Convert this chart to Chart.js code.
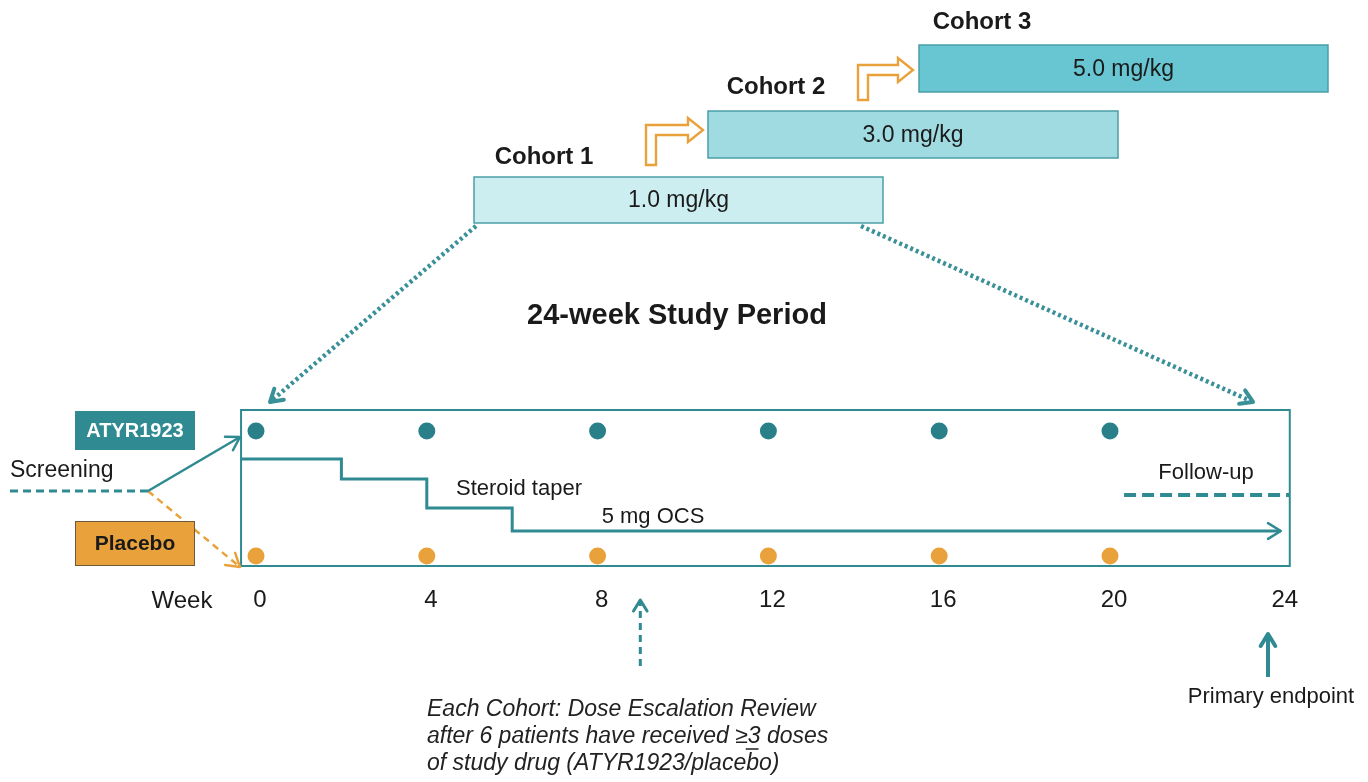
<!DOCTYPE html>
<html>
<head>
<meta charset="utf-8">
<script src="https://cdn.jsdelivr.net/npm/chart.js@4.4.1/dist/chart.umd.min.js"></script>
<style>
  html, body { margin: 0; padding: 0; background: #fff; overflow: hidden; }
  #wrap { width: 1368px; height: 782px; position: relative; }
  canvas { display: block; }
</style>
</head>
<body>
<div id="wrap"><canvas id="chart"></canvas></div>
<script>
// ---- data ----
const weekTicks = [0, 4, 8, 12, 16, 20, 24];
const doseWeeks = [0, 4, 8, 12, 16, 20];
const taperWeeks = [-0.35, 2, 4, 6, 24];
const followUpWeeks = [20.33, 24.21];
const reviewWeek = 9;
const cohortNames = ['Cohort 1', 'Cohort 2', 'Cohort 3'];
const cohortDoses = ['1.0 mg/kg', '3.0 mg/kg', '5.0 mg/kg'];

// ---- layout (pixel rows / columns of the diagram) ----
const W = 1368, H = 782;
const weekPx0 = 256, pxPerWeek = 42.7;           // week 0 position and spacing
const taperRows = [459, 479, 508, 531, 531];
const rows = { atyr: 431, placebo: 556, follow: 495, ticks: 601, boxTop: 410, boxBottom: 566 };
const boxWeeks = [-0.35, 24.21];
const cohortBoxes = [
  { x0: 474, x1: 883, y0: 177, y1: 223, fill: '#cdeef1', lx: 544, ly: 157 },
  { x0: 708, x1: 1118, y0: 111, y1: 158, fill: '#a0dbe1', lx: 776, ly: 87 },
  { x0: 919, x1: 1328, y0: 45, y1: 92, fill: '#67c6d2', lx: 982, ly: 22 }
];
const bentArrows = [
  { l: 646, r: 703, t: 118, b: 165 },
  { l: 858, r: 913, t: 58, b: 100 }
];
const screenLine = { x: [10, 148], y: [491, 491] };
const toAtyr = { x: [148, 240], y: [491, 437] };
const toPlacebo = { x: [148, 240], y: [491, 567] };

const teal = '#2f8a92';
const tealDot = '#2a8089';
const orange = '#e9a23b';
const ink = '#1a1a1a';
const sans = '"Liberation Sans", Arial, sans-serif';

function arrowHead(ctx, x, y, ang, size, width, color) {
  ctx.save();
  ctx.strokeStyle = color;
  ctx.lineWidth = width;
  ctx.setLineDash([]);
  ctx.lineCap = 'round';
  ctx.lineJoin = 'round';
  ctx.beginPath();
  ctx.moveTo(x - size * Math.cos(ang - 0.55), y - size * Math.sin(ang - 0.55));
  ctx.lineTo(x, y);
  ctx.lineTo(x - size * Math.cos(ang + 0.55), y - size * Math.sin(ang + 0.55));
  ctx.stroke();
  ctx.restore();
}

function line(ctx, x0, y0, x1, y1, color, width, dash) {
  ctx.save();
  ctx.strokeStyle = color;
  ctx.lineWidth = width;
  ctx.setLineDash(dash || []);
  ctx.beginPath();
  ctx.moveTo(x0, y0);
  ctx.lineTo(x1, y1);
  ctx.stroke();
  ctx.restore();
}

function text(ctx, str, x, y, font, color, align) {
  ctx.font = font;
  ctx.fillStyle = color || ink;
  ctx.textAlign = align || 'center';
  ctx.textBaseline = 'middle';
  ctx.fillText(str, x, y);
}

const diagram = {
  id: 'diagram',
  beforeDatasetsDraw(chart) {
    const { ctx, scales } = chart;
    const xw = scales.x, xl = scales.xl, y = scales.y;
    ctx.save();
    // timeline frame
    const bx0 = xw.getPixelForValue(boxWeeks[0]), bx1 = xw.getPixelForValue(boxWeeks[1]);
    ctx.strokeStyle = teal;
    ctx.lineWidth = 2;
    ctx.strokeRect(bx0, y.getPixelForValue(rows.boxTop), bx1 - bx0, y.getPixelForValue(rows.boxBottom) - y.getPixelForValue(rows.boxTop));

    // cohort boxes
    cohortBoxes.forEach((b, i) => {
      const x0 = xl.getPixelForValue(b.x0), x1 = xl.getPixelForValue(b.x1);
      const y0 = y.getPixelForValue(b.y0), y1 = y.getPixelForValue(b.y1);
      ctx.fillStyle = b.fill;
      ctx.fillRect(x0, y0, x1 - x0, y1 - y0);
      ctx.strokeStyle = '#4a9ea6';
      ctx.lineWidth = 1.5;
      ctx.strokeRect(x0, y0, x1 - x0, y1 - y0);
      text(ctx, cohortDoses[i], (x0 + x1) / 2, (y0 + y1) / 2 + 1, '23px ' + sans, ink);
      text(ctx, cohortNames[i], xl.getPixelForValue(b.lx), y.getPixelForValue(b.ly), 'bold 24px ' + sans, ink);
    });

    // hollow bent arrows between cohorts
    bentArrows.forEach(a => {
      const L = xl.getPixelForValue(a.l), R = xl.getPixelForValue(a.r);
      const T = y.getPixelForValue(a.t), B = y.getPixelForValue(a.b);
      const hh = 12, sh = 5, hl = 15, sw = 10;
      const yc = T + hh;
      ctx.beginPath();
      ctx.moveTo(L, B);
      ctx.lineTo(L, yc - sh);
      ctx.lineTo(R - hl, yc - sh);
      ctx.lineTo(R - hl, T);
      ctx.lineTo(R, yc);
      ctx.lineTo(R - hl, T + 2 * hh);
      ctx.lineTo(R - hl, yc + sh);
      ctx.lineTo(L + sw, yc + sh);
      ctx.lineTo(L + sw, B);
      ctx.closePath();
      ctx.fillStyle = '#fff';
      ctx.fill();
      ctx.strokeStyle = orange;
      ctx.lineWidth = 2.4;
      ctx.lineJoin = 'miter';
      ctx.stroke();
    });

    // dotted zoom arrows from cohort 1 to the timeline
    const c1 = cohortBoxes[0];
    const dots = [[c1.x0 + 2, 226, 270, 402], [c1.x1 - 22, 226, 1253, 402]];
    dots.forEach(d => {
      const x0 = xl.getPixelForValue(d[0]), y0 = y.getPixelForValue(d[1]);
      const x1 = xl.getPixelForValue(d[2]), y1 = y.getPixelForValue(d[3]);
      line(ctx, x0, y0, x1, y1, '#3a9098', 4.5, [3, 3]);
      arrowHead(ctx, x1, y1, Math.atan2(y1 - y0, x1 - x0), 14, 4, '#3a9098');
    });

    text(ctx, '24-week Study Period', 677, 316, 'bold 29px ' + sans, ink);
    ctx.restore();
  },
  afterDatasetsDraw(chart) {
    const { ctx, scales } = chart;
    const xw = scales.x, y = scales.y;
    ctx.save();

    // arrowheads on line datasets
    chart.data.datasets.forEach((ds, i) => {
      if (!ds.arrow) return;
      const pts = chart.getDatasetMeta(i).data;
      const p = pts[pts.length - 1], q = pts[pts.length - 2];
      arrowHead(ctx, p.x, p.y, Math.atan2(p.y - q.y, p.x - q.x), 15, 2.5, ds.borderColor);
    });

    // arm labels
    ctx.fillStyle = teal;
    ctx.fillRect(75, 411, 120, 39);
    text(ctx, 'ATYR1923', 135, 431, 'bold 20px ' + sans, '#fff');
    ctx.fillStyle = orange;
    ctx.fillRect(75, 521, 120, 45);
    ctx.strokeStyle = '#6b5a3a';
    ctx.lineWidth = 1;
    ctx.strokeRect(75.5, 521.5, 119, 44);
    text(ctx, 'Placebo', 135, 544, 'bold 21px ' + sans, ink);

    text(ctx, 'Screening', 10, 471, '23px ' + sans, ink, 'left');
    text(ctx, 'Steroid taper', 519, 489, '22px ' + sans, ink);
    text(ctx, '5 mg OCS', 653, 517, '22px ' + sans, ink);
    text(ctx, 'Follow-up', 1206, 473, '22px ' + sans, ink);

    // week axis labels
    text(ctx, 'Week', 182, y.getPixelForValue(rows.ticks), '24px ' + sans, ink);
    weekTicks.forEach(w => {
      text(ctx, String(w), xw.getPixelForValue(w) + 4, y.getPixelForValue(rows.ticks) - 1, '24px ' + sans, ink);
    });

    // dose escalation review arrow
    const rx = xw.getPixelForValue(reviewWeek);
    line(ctx, rx, 666, rx, 602, teal, 3, [7, 5]);
    arrowHead(ctx, rx, 600, -Math.PI / 2, 13, 3, teal);
    const it = 'italic 23px ' + sans;
    text(ctx, 'Each Cohort: Dose Escalation Review', 427, 710, it, '#222', 'left');
    const pre = 'after 6 patients have received \u2265';
    text(ctx, pre, 427, 737, it, '#222', 'left');
    const w1 = ctx.measureText(pre).width;
    text(ctx, '3', 427 + w1, 737, it, '#222', 'left');
    const w3 = ctx.measureText('3').width;
    line(ctx, 425 + w1, 749, 425 + w1 + w3, 749, '#222', 1.5);
    text(ctx, ' doses', 427 + w1 + w3, 737, it, '#222', 'left');
    text(ctx, 'of study drug (ATYR1923/placebo)', 427, 764, it, '#222', 'left');

    // primary endpoint
    line(ctx, 1268, 677, 1268, 636, teal, 4);
    arrowHead(ctx, 1268, 634, -Math.PI / 2, 14, 4, teal);
    text(ctx, 'Primary endpoint', 1271, 697, '22px ' + sans, ink);
    ctx.restore();
  }
};

const pts = (xs, ys) => xs.map((x, i) => ({ x, y: Array.isArray(ys) ? ys[i] : ys }));

new Chart(document.getElementById('chart'), {
  type: 'scatter',
  data: {
    datasets: [
      { label: 'ATYR1923', data: pts(doseWeeks, rows.atyr), pointRadius: 8.5, pointHoverRadius: 8.5,
        backgroundColor: tealDot, borderWidth: 0, clip: false },
      { label: 'Placebo', data: pts(doseWeeks, rows.placebo), pointRadius: 8.5, pointHoverRadius: 8.5,
        backgroundColor: orange, borderWidth: 0, clip: false },
      { label: 'Steroid taper', type: 'line', data: pts(taperWeeks, taperRows), stepped: 'before',
        borderColor: teal, borderWidth: 3, pointRadius: 0, fill: false, arrow: true, clip: false },
      { label: 'Follow-up', type: 'line', data: pts(followUpWeeks, rows.follow), borderColor: teal,
        borderWidth: 4, borderDash: [12, 6], pointRadius: 0, fill: false, clip: false },
      { label: 'Screening', type: 'line', xAxisID: 'xl', data: pts(screenLine.x, screenLine.y),
        borderColor: teal, borderWidth: 3, borderDash: [8, 5], pointRadius: 0, fill: false },
      { label: 'to ATYR1923', type: 'line', xAxisID: 'xl', data: pts(toAtyr.x, toAtyr.y),
        borderColor: teal, borderWidth: 2.5, pointRadius: 0, fill: false, arrow: true },
      { label: 'to Placebo', type: 'line', xAxisID: 'xl', data: pts(toPlacebo.x, toPlacebo.y),
        borderColor: orange, borderWidth: 2.5, borderDash: [7, 5], pointRadius: 0, fill: false, arrow: true }
    ]
  },
  options: {
    responsive: true,
    maintainAspectRatio: false,
    animation: false,
    events: [],
    layout: { padding: 0, autoPadding: false },
    scales: {
      x: { type: 'linear', min: -weekPx0 / pxPerWeek, max: (W - weekPx0) / pxPerWeek, display: false },
      xl: { type: 'linear', min: 0, max: W, display: false },
      y: { type: 'linear', min: 0, max: H, reverse: true, display: false }
    },
    plugins: { legend: { display: false }, tooltip: { enabled: false } }
  },
  plugins: [diagram]
});
</script>
</body>
</html>
